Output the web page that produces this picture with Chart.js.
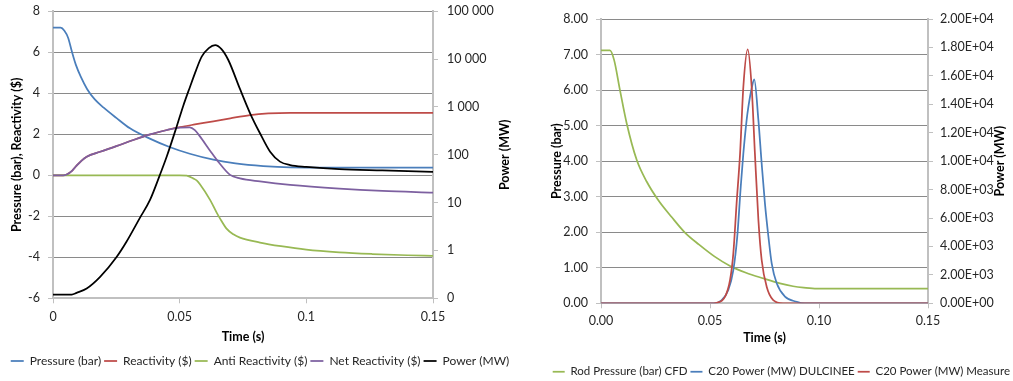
<!DOCTYPE html>
<html lang="en">

<head>
    <meta charset="UTF-8">
    <title>Rod ejection transient</title>
    <script src="https://cdn.jsdelivr.net/npm/chart.js"></script>
    <style>
        body {
            margin: 0;
            background: #fff;
            font-family: Lato, sans-serif;
        }

        .box {
            position: absolute;
            top: 0;
            height: 381px;
        }
    </style>
</head>

<body>
    <div class="box" style="left:0;width:520px"><canvas id="leftChart"></canvas></div>
    <div class="box" style="left:530px;width:483px"><canvas id="rightChart"></canvas></div>

    <script>
        // ---- left chart: pressure / reactivity / power ----
        const pressureT = [0, 0.003, 0.0045, 0.006, 0.0074, 0.009, 0.011, 0.0135, 0.0165, 0.02, 0.025, 0.0304, 0.038, 0.046, 0.054, 0.0633, 0.072, 0.083, 0.0936, 0.11, 0.13, 0.15];
        const pressure = [7.2, 7.2, 7.05, 6.7, 6.06, 5.4, 4.8, 4.2, 3.7, 3.3, 2.8, 2.29, 1.8, 1.38, 1.05, 0.76, 0.58, 0.45, 0.39, 0.38, 0.38, 0.38];

        const reactT = [0, 0.004, 0.0054, 0.0075, 0.0093, 0.0113, 0.0133, 0.0186, 0.025, 0.0317, 0.038, 0.045, 0.0501, 0.056, 0.0633, 0.07, 0.0778, 0.085, 0.0936, 0.11, 0.13, 0.15];
        const reactivity = [0, 0, 0.04, 0.22, 0.47, 0.72, 0.91, 1.15, 1.42, 1.72, 1.98, 2.21, 2.35, 2.48, 2.63, 2.78, 2.94, 3.02, 3.05, 3.04, 3.04, 3.04];

        const antiT = [0, 0.05, 0.0528, 0.0553, 0.0567, 0.058, 0.062, 0.0646, 0.0659, 0.0685, 0.0712, 0.0738, 0.0817, 0.09, 0.1, 0.113, 0.126, 0.14, 0.15];
        const antiReactivity = [0, 0, -0.02, -0.15, -0.25, -0.44, -1.2, -1.82, -2.1, -2.6, -2.88, -3.04, -3.28, -3.46, -3.63, -3.76, -3.84, -3.9, -3.93];

        const netT = [0, 0.004, 0.0054, 0.0075, 0.0093, 0.0113, 0.0133, 0.0186, 0.025, 0.0317, 0.038, 0.045, 0.0501, 0.054, 0.056, 0.058, 0.062, 0.0653, 0.0699, 0.0738, 0.0817, 0.0936, 0.113, 0.13, 0.15];
        const netReactivity = [0, 0, 0.04, 0.22, 0.47, 0.72, 0.91, 1.15, 1.42, 1.72, 1.98, 2.21, 2.33, 2.34, 2.2, 1.9, 1.2, 0.65, 0.02, -0.15, -0.3, -0.47, -0.65, -0.76, -0.84];

        const powerT = [0, 0.0074, 0.0093, 0.0133, 0.0186, 0.0251, 0.029, 0.0343, 0.0383, 0.0422, 0.0449, 0.0488, 0.0514, 0.0541, 0.0565, 0.0587, 0.0615, 0.064, 0.0665, 0.0692, 0.0738, 0.0778, 0.0817, 0.0857, 0.0896, 0.0936, 0.1, 0.113, 0.13, 0.15];
        const power = [0.12, 0.12, 0.13, 0.16, 0.28, 0.73, 1.52, 4.8, 11.4, 38, 92, 387, 1050, 2655, 5900, 11250, 17000, 19600, 16200, 9590, 2380, 738, 282, 116, 72, 61, 56, 50, 47, 44];

        const powerTicks = [0.1, 1, 10, 100, 1000, 10000, 100000];

        // ---- right chart: C20 test ----
        const rodT = [0, 0.0041, 0.006, 0.0087, 0.0118, 0.0164, 0.021, 0.0263, 0.0325, 0.0385, 0.045, 0.052, 0.0592, 0.0665, 0.0745, 0.0821, 0.0881, 0.093, 0.099, 0.11, 0.13, 0.15];
        const rodPressure = [7.12, 7.12, 6.85, 6.0, 5.06, 4.03, 3.42, 2.9, 2.42, 1.99, 1.65, 1.32, 1.05, 0.86, 0.7, 0.56, 0.48, 0.44, 0.41, 0.41, 0.41, 0.41];

        const dulT = [0, 0.05, 0.0518, 0.0554, 0.0584, 0.0607, 0.0625, 0.0641, 0.0653, 0.0668, 0.0676, 0.0691, 0.0703, 0.0722, 0.0737, 0.0752, 0.0768, 0.0783, 0.0806, 0.0844, 0.0898, 0.0934, 0.1, 0.15];
        const dulcinee = [0, 0, 0, 230, 935, 2340, 4680, 8200, 10545, 12885, 13820, 15115, 15750, 12885, 9840, 7030, 4680, 2810, 1405, 465, 110, 0, 0, 0];

        const measT = [0, 0.05, 0.0531, 0.0569, 0.0592, 0.0607, 0.0622, 0.0638, 0.0653, 0.0673, 0.0691, 0.0706, 0.0722, 0.0737, 0.076, 0.079, 0.0835, 0.1, 0.15];
        const measure = [0, 0, 40, 465, 1640, 3515, 7030, 10545, 15230, 17860, 15230, 10545, 5855, 3045, 1170, 230, 0, 0, 0];

        const BLUE = '#4a7ebb';
        const RED = '#be4b48';
        const GREEN = '#98b954';
        const PURPLE = '#7d60a0';
        const GRID = '#8a8a8a';
        const AXIS = '#c0c0c0';
        const TEXT = '#262626';
        const FONT = 'Lato';

        function points(ts, vs) {
            return ts.map((t, i) => ({ x: t, y: vs[i] }));
        }

        function series(label, ts, vs, color, axis, order) {
            return {
                label: label,
                data: points(ts, vs),
                borderColor: color,
                backgroundColor: color,
                borderWidth: 1.75,
                pointRadius: 0,
                cubicInterpolationMode: 'monotone',
                yAxisID: axis,
                order: order
            };
        }

        // right axis titles read bottom-to-top, chart.js rotates them the other way
        const sideTitle = {
            id: 'sideTitle',
            afterDraw(chart, args, opts) {
                const { ctx, chartArea } = chart;
                ctx.save();
                ctx.font = 'bold 12.5px ' + FONT;
                ctx.fillStyle = '#000';
                ctx.textAlign = 'center';
                ctx.textBaseline = 'middle';
                ctx.translate(opts.x, (chartArea.top + chartArea.bottom) / 2);
                ctx.rotate(-Math.PI / 2);
                ctx.fillText(opts.text, 0, 0);
                ctx.restore();
            }
        };

        const tickFont = { family: FONT, size: 12.5 };
        const titleFont = { family: FONT, size: 12.5, weight: 'bold' };

        // fixed widths, and no extra top/bottom padding from the tick labels
        function fixWidth(w) {
            return s => {
                s.width = w;
                s.paddingTop = 0;
                s.paddingBottom = 0;
            };
        }

        function legendOpts(align, maxHeight, size, lineW) {
            return {
                position: 'bottom',
                align: align,
                maxHeight: maxHeight,
                labels: {
                    usePointStyle: true,
                    pointStyle: 'line',
                    pointStyleWidth: lineW,
                    padding: 3,
                    color: TEXT,
                    font: { family: FONT, size: size },
                    sort: (a, b) => a.datasetIndex - b.datasetIndex
                }
            };
        }

        function spaced(v) {
            return String(v).replace(/\B(?=(\d{3})+(?!\d))/g, ' ');
        }

        function sci(v) {
            const [m, e] = v.toExponential(2).split('e');
            const n = Math.abs(parseInt(e, 10));
            return m + 'E' + (e[0] === '-' ? '-' : '+') + (n < 10 ? '0' + n : n);
        }

        new Chart(document.getElementById('leftChart'), {
            type: 'line',
            data: {
                datasets: [
                    series('Pressure (bar)', pressureT, pressure, BLUE, 'y', 5),
                    series('Reactivity ($)', reactT, reactivity, RED, 'y', 4),
                    series('Anti Reactivity ($)', antiT, antiReactivity, GREEN, 'y', 3),
                    series('Net Reactivity ($)', netT, netReactivity, PURPLE, 'y', 2),
                    series('Power (MW)', powerT, power, '#000000', 'y1', 1)
                ]
            },
            options: {
                responsive: true,
                maintainAspectRatio: false,
                animation: false,
                layout: { padding: { top: 11.3, bottom: 4, left: 0, right: 0 } },
                scales: {
                    x: {
                        type: 'linear',
                        min: 0,
                        max: 0.15,
                        afterFit: s => { s.height = 53.7; },
                        ticks: {
                            stepSize: 0.05,
                            padding: 6,
                            color: TEXT,
                            font: tickFont,
                            callback: v => String(+v.toFixed(2))
                        },
                        grid: { drawOnChartArea: false, tickLength: 5, tickColor: AXIS },
                        border: { color: AXIS, width: 2 },
                        title: { display: true, text: 'Time (s)', color: '#000', font: titleFont, padding: { top: 0, bottom: 7.8 } }
                    },
                    y: {
                        position: 'left',
                        min: -6,
                        max: 8,
                        afterFit: fixWidth(53),
                        ticks: { stepSize: 2, padding: 8, color: TEXT, font: tickFont },
                        grid: { color: GRID, tickLength: 5, tickColor: AXIS },
                        border: { color: AXIS, width: 2 },
                        title: { display: true, text: 'Pressure (bar), Reactivity ($)', color: '#000', font: titleFont, padding: { top: 9.5, bottom: 0 } }
                    },
                    y1: {
                        type: 'logarithmic',
                        position: 'right',
                        min: 0.1,
                        max: 100000,
                        afterFit: fixWidth(87),
                        afterBuildTicks: s => { s.ticks = powerTicks.map(v => ({ value: v })); },
                        ticks: {
                            padding: 9,
                            color: TEXT,
                            font: tickFont,
                            callback: v => v < 1 ? '0' : spaced(v)
                        },
                        grid: { drawOnChartArea: false, tickLength: 5, tickColor: AXIS },
                        border: { color: AXIS, width: 2 }
                    }
                },
                plugins: {
                    legend: legendOpts('center', 25, 12, 13),
                    tooltip: { enabled: false },
                    sideTitle: { x: 505, text: 'Power (MW)' }
                }
            },
            plugins: [sideTitle]
        });

        new Chart(document.getElementById('rightChart'), {
            type: 'line',
            data: {
                datasets: [
                    series('Rod Pressure (bar) CFD', rodT, rodPressure, GREEN, 'y', 3),
                    series('C20 Power (MW) DULCINEE', dulT, dulcinee, BLUE, 'y1', 2),
                    series('C20 Power (MW) Measure', measT, measure, RED, 'y1', 1)
                ]
            },
            options: {
                responsive: true,
                maintainAspectRatio: false,
                animation: false,
                layout: { padding: { top: 19, bottom: 0, left: 0, right: 0 } },
                scales: {
                    x: {
                        type: 'linear',
                        min: 0,
                        max: 0.15,
                        afterFit: s => { s.height = 59.7; },
                        ticks: {
                            stepSize: 0.05,
                            padding: 5.5,
                            color: TEXT,
                            font: tickFont,
                            callback: v => v.toFixed(2)
                        },
                        grid: { drawOnChartArea: false, tickLength: 5, tickColor: AXIS },
                        border: { color: AXIS, width: 2 },
                        title: { display: true, text: 'Time (s)', color: '#000', font: titleFont, padding: { top: 0, bottom: 17.5 } }
                    },
                    y: {
                        position: 'left',
                        min: 0,
                        max: 8,
                        afterFit: fixWidth(71),
                        ticks: { stepSize: 1, padding: 8, color: TEXT, font: tickFont, callback: v => v.toFixed(2) },
                        grid: { color: GRID, tickLength: 5, tickColor: AXIS },
                        border: { color: AXIS, width: 2 },
                        title: { display: true, text: 'Pressure (bar)', color: '#000', font: titleFont, padding: { top: 19.5, bottom: 0 } }
                    },
                    y1: {
                        position: 'right',
                        min: 0,
                        max: 20000,
                        afterFit: fixWidth(85),
                        ticks: { stepSize: 2000, padding: 7, color: TEXT, font: tickFont, callback: v => sci(v) },
                        grid: { drawOnChartArea: false, tickLength: 5, tickColor: AXIS },
                        border: { color: AXIS, width: 2 }
                    }
                },
                plugins: {
                    legend: legendOpts('end', 18, 11.5, 12),
                    tooltip: { enabled: false },
                    sideTitle: { x: 470, text: 'Power (MW)' }
                }
            },
            plugins: [sideTitle]
        });
    </script>

</body>

</html>
